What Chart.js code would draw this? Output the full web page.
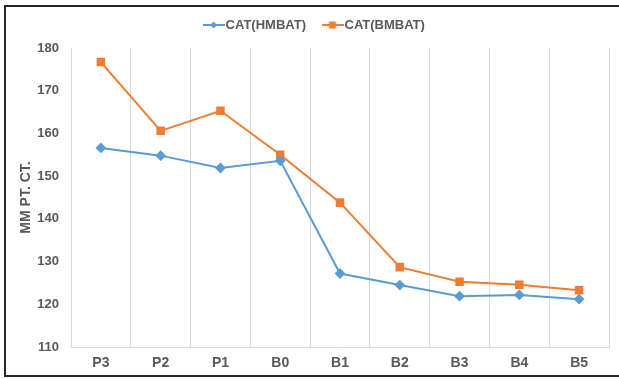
<!DOCTYPE html>
<html>
<head>
<meta charset="utf-8">
<script src="https://cdn.jsdelivr.net/npm/chart.js@4"></script>
<style>
  body { margin: 0; background: #fff; }
  #box { position: absolute; left: 0; top: 0; width: 619px; height: 379px; }
</style>
</head>
<body>
<div id="box"><canvas id="chart"></canvas></div>
<script>
const labels = ['P3', 'P2', 'P1', 'B0', 'B1', 'B2', 'B3', 'B4', 'B5'];
const hmbat = [156.6, 154.8, 151.9, 153.6, 127.2, 124.5, 121.9, 122.2, 121.2];
const bmbat = [176.7, 160.6, 165.3, 155.0, 143.8, 128.7, 125.3, 124.6, 123.3];
const yTicks = [110, 120, 130, 140, 150, 160, 170, 180];

const blue = '#5B9BD5';
const orange = '#ED7D31';
const grey = '#595959';
const font = 'Liberation Sans, Arial, sans-serif';

// little legend swatch: line with the marker in the middle
function swatch(color, style) {
  const c = document.createElement('canvas');
  c.width = 22; c.height = 10;
  const g = c.getContext('2d');
  g.strokeStyle = color; g.lineWidth = 2;
  g.beginPath(); g.moveTo(0, 5); g.lineTo(22, 5); g.stroke();
  g.fillStyle = color;
  g.beginPath();
  if (style === 'diamond') {
    g.moveTo(11, 1.5); g.lineTo(14.5, 5); g.lineTo(11, 8.5); g.lineTo(7.5, 5);
  } else {
    g.rect(7.5, 1.5, 7, 7);
  }
  g.fill();
  return c;
}

// outer frame, open on the right like the original picture
const frame = {
  id: 'frame',
  afterDraw(chart) {
    const ctx = chart.ctx;
    ctx.save();
    ctx.strokeStyle = '#262626';
    ctx.lineWidth = 2;
    ctx.beginPath();
    ctx.moveTo(625, 6);
    ctx.lineTo(5, 6);
    ctx.lineTo(5, 376);
    ctx.lineTo(625, 376);
    ctx.stroke();
    ctx.restore();
  }
};

// nudge the legend: fixed height, drawn a bit to the right and up
const legendFix = {
  id: 'legendFix',
  beforeUpdate(chart) {
    const lg = chart.legend;
    if (!lg || lg._patched) return;
    lg._patched = true;
    const fit = lg.fit;
    lg.fit = function () { fit.call(this); this.height = 42; };
    const draw = lg.draw;
    lg.draw = function () {
      const ctx = this.ctx;
      ctx.save();
      ctx.translate(9.5, -8.5);
      draw.call(this);
      ctx.restore();
    };
  }
};

new Chart(document.querySelector('#chart'), {
  type: 'line',
  data: {
    labels: labels,
    datasets: [
      {
        label: 'CAT(HMBAT)',
        data: hmbat,
        borderColor: blue,
        backgroundColor: blue,
        borderWidth: 2,
        pointStyle: 'rectRot',
        pointRadius: 4,
        pointHoverRadius: 4,
        tension: 0
      },
      {
        label: 'CAT(BMBAT)',
        data: bmbat,
        borderColor: orange,
        backgroundColor: orange,
        borderWidth: 2,
        pointStyle: 'rect',
        pointRadius: 4.6,
        pointHoverRadius: 4.6,
        tension: 0
      }
    ]
  },
  options: {
    responsive: true,
    maintainAspectRatio: false,
    animation: false,
    layout: { padding: { left: 5, right: 10, top: 6, bottom: 6 } },
    plugins: {
      tooltip: { enabled: false },
      legend: {
        position: 'top',
        labels: {
          usePointStyle: true,
          pointStyleWidth: 11,
          padding: 21,
          color: grey,
          font: { family: font, size: 13, weight: 'bold' },
          generateLabels(chart) {
            return chart.data.datasets.map((ds, i) => ({
              text: ds.label,
              fontColor: grey,
              pointStyle: swatch(ds.borderColor, i === 0 ? 'diamond' : 'square'),
              datasetIndex: i,
              hidden: false,
              lineWidth: 0
            }));
          }
        }
      }
    },
    scales: {
      x: {
        offset: true,
        afterFit(scale) { scale.height = 26; },
        grid: { color: '#D9D9D9', drawTicks: false, offset: true },
        border: { color: '#D9D9D9' },
        ticks: {
          color: grey,
          padding: 8,
          font: { family: font, size: 14, weight: 'bold' }
        }
      },
      y: {
        min: 110,
        max: 180,
        afterFit(scale) { scale.width = 66; },
        afterBuildTicks(scale) { scale.ticks = yTicks.map(v => ({ value: v })); },
        grid: { display: false, drawTicks: false },
        border: { display: false },
        title: {
          display: true,
          text: 'MM PT. CT.',
          color: grey,
          padding: { top: 12.6, bottom: 0 },
          font: { family: font, size: 14, weight: 'bold' }
        },
        ticks: {
          color: grey,
          padding: 12,
          font: { family: font, size: 13, weight: 'bold' }
        }
      }
    }
  },
  plugins: [frame, legendFix]
});
</script>
</body>
</html>
